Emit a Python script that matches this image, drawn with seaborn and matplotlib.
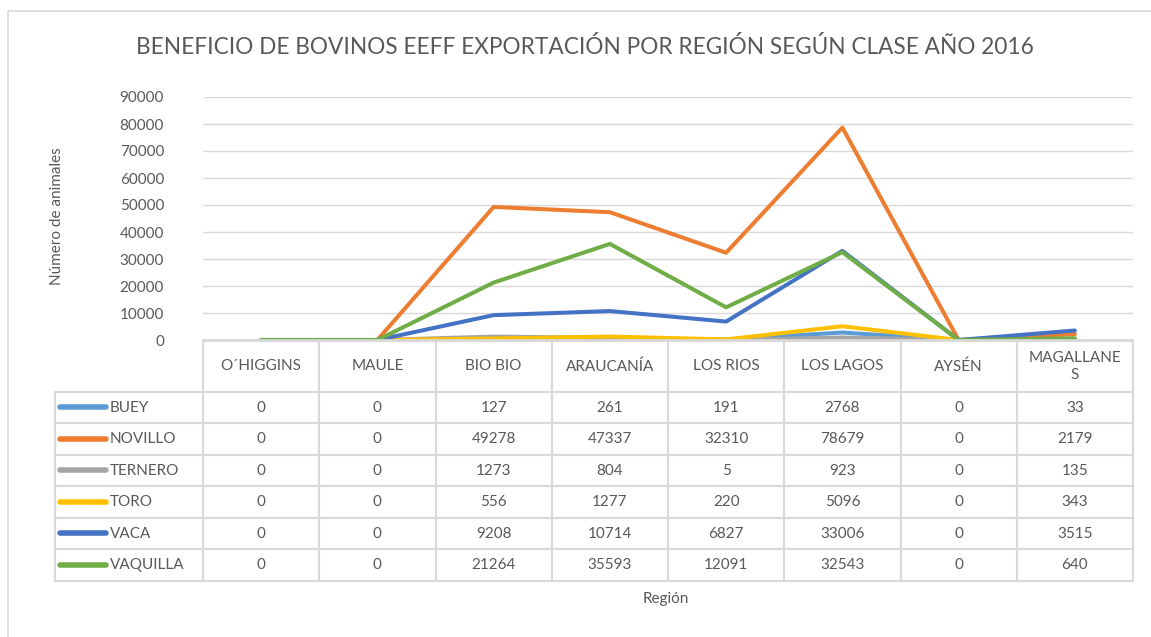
import pandas as pd
import matplotlib.pyplot as plt
import matplotlib.patches as mpatches
import matplotlib.lines as mlines
import seaborn as sns

regions = ['O´HIGGINS', 'MAULE', 'BIO BIO', 'ARAUCANÍA', 'LOS RIOS', 'LOS LAGOS', 'AYSÉN', 'MAGALLANES']
clases = ['BUEY', 'NOVILLO', 'TERNERO', 'TORO', 'VACA', 'VAQUILLA']
buey = [0, 0, 127, 261, 191, 2768, 0, 33]
novillo = [0, 0, 49278, 47337, 32310, 78679, 0, 2179]
ternero = [0, 0, 1273, 804, 5, 923, 0, 135]
toro = [0, 0, 556, 1277, 220, 5096, 0, 343]
vaca = [0, 0, 9208, 10714, 6827, 33006, 0, 3515]
vaquilla = [0, 0, 21264, 35593, 12091, 32543, 0, 640]
yticks = list(range(0, 90001, 10000))

colors = ['#5B9BD5', '#ED7D31', '#A5A5A5', '#FFC000', '#4472C4', '#70AD47']
series = [buey, novillo, ternero, toro, vaca, vaquilla]

rows = []
for clase, vals in zip(clases, series):
    for reg, v in zip(regions, vals):
        rows.append({'Región': reg, 'Clase': clase, 'Valor': v})
df = pd.DataFrame(rows)

sns.set_theme(style='white')
plt.rcParams['font.family'] = ['Lato', 'DejaVu Sans']
txt = '#595959'

W, H = 1151, 637
fig = plt.figure(figsize=(W / 100, H / 100), dpi=100)
fig.patches.append(mpatches.Rectangle((8 / W, -0.1), 1.2, 1 - 11 / H + 0.1, transform=fig.transFigure,
                                      fill=False, edgecolor='#D9D9D9', linewidth=1.2))

x0, x1, y0, y1 = 203, 1133, 97, 340
ax = fig.add_axes([x0 / W, 1 - y1 / H, (x1 - x0) / W, (y1 - y0) / H])

sns.lineplot(data=df, x='Región', y='Valor', hue='Clase', palette=colors, sort=False,
             linewidth=2.9, legend=False, ax=ax)
for ln in ax.lines:
    ln.set_solid_capstyle('round')
    ln.set_solid_joinstyle('round')

ax.set_xlim(-0.5, len(regions) - 0.5)
ax.set_ylim(0, 90000)
ax.set_yticks(yticks)
ax.set_yticklabels([str(t) for t in yticks], color=txt, fontsize=11)
ax.tick_params(axis='y', length=0, pad=28)
ax.set_xticks([])
ax.grid(axis='y', color='#D9D9D9', linewidth=1)
for s in ['left', 'right', 'top']:
    ax.spines[s].set_visible(False)
ax.spines['bottom'].set_color('#D9D9D9')
ax.set_xlabel('')
ax.set_ylabel('')

# data table under the plot
header = [''] + [r if r != 'MAGALLANES' else 'MAGALLANE\nS' for r in regions]
cell_text = [header] + [[c] + [str(v) for v in vals] for c, vals in zip(clases, series)]
lab_w = (203 - 55) / (x1 - x0)
col_w = 1.0 / len(regions)
tb = ax.table(cellText=cell_text, colWidths=[lab_w] + [col_w] * len(regions), cellLoc='center',
              bbox=[(55 - x0) / (x1 - x0), (y1 - 581) / (y1 - y0), (1133 - 55) / (x1 - x0), (581 - 341) / (y1 - y0)])
tb.auto_set_font_size(False)
for (r, c), cell in tb.get_celld().items():
    cell.set_edgecolor('#D9D9D9')
    cell.set_linewidth(1.5)
    cell.set_text_props(color=txt, fontsize=11)
    cell.set_height(51 if r == 0 else 31.6)
    if r == 0 and c == 0:
        cell.visible_edges = ''
    if c == 0 and r > 0:
        cell.set_text_props(ha='left')
        cell.PAD = 0.37

# legend keys inside the table label column
for i, col in enumerate(colors):
    yc = 1 - (407 + i * 31.6) / H
    fig.add_artist(mlines.Line2D([60 / W, 106 / W], [yc, yc], color=col, linewidth=4,
                                 solid_capstyle='round', transform=fig.transFigure))

fig.text(585 / W, 1 - 47 / H,
         'BENEFICIO DE BOVINOS EEFF EXPORTACIÓN POR REGIÓN SEGÚN CLASE AÑO 2016',
         ha='center', va='center', fontsize=16.3, color=txt)
fig.text(57 / W, 1 - 216 / H, 'Número de animales', rotation=90, ha='center', va='center',
         fontsize=11, color=txt)
fig.text(666 / W, 1 - 599 / H, 'Región', ha='center', va='center', fontsize=11, color=txt)

fig.savefig('out.png', dpi=100)
